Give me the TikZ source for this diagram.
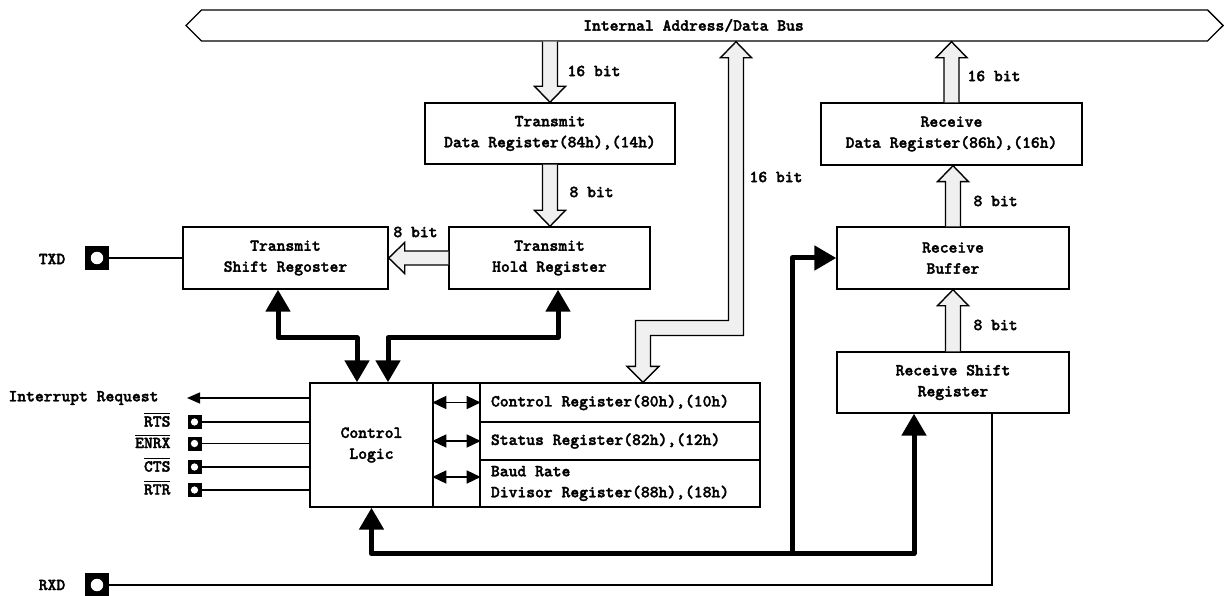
\documentclass[tikz,border=0pt]{standalone}
\usepackage{fontspec}
\setmonofont{lmmonolt10-regular.otf}[BoldFont=lmmonolt10-bold.otf, BoldFeatures={FakeBold=2}, WordSpace={1,0,0}]
\usetikzlibrary{arrows.meta,calc,shapes.arrows}

\definecolor{pipefill}{gray}{0.94}
\newcommand\actlow[1]{\vbox{\hrule height 1pt\kern2pt\hbox{#1}}}

\tikzset{
  every node/.style={font=\ttfamily\bfseries\fontsize{16.8}{21}\selectfont},
  blk/.style={draw, line width=1.4pt, fill=white, align=flush center, inner sep=0pt},
  regbox/.style={blk, minimum width=280pt, inner xsep=11pt, text width=258pt, align=flush left},
  pinsq/.style={fill=black, inner sep=0pt, minimum size=#1,
    path picture={\fill[white] (path picture bounding box.center) circle (#1*0.26);}},
  wire/.style={line width=1.2pt},
  bigarrow/.style={line width=5pt, line join=round},
  pipeline/.style={draw=black, fill=pipefill, line width=1.4pt, line join=miter},
}

% hollow bus arrows, from the shaft end #1 to the tip #2
\newcommand\pipedown[2]{%
  \filldraw[pipeline] let \p1=(#1), \p2=(#2) in
    (\x1-7.5pt,\y1) -- (\x1-7.5pt,\y2+16pt) -- (\x1-15.5pt,\y2+16pt) -- (\p2)
    -- (\x1+15.5pt,\y2+16pt) -- (\x1+7.5pt,\y2+16pt) -- (\x1+7.5pt,\y1);}
\newcommand\pipeup[2]{%
  \filldraw[pipeline] let \p1=(#1), \p2=(#2) in
    (\x1-7.5pt,\y1) -- (\x1-7.5pt,\y2-16pt) -- (\x1-15.5pt,\y2-16pt) -- (\p2)
    -- (\x1+15.5pt,\y2-16pt) -- (\x1+7.5pt,\y2-16pt) -- (\x1+7.5pt,\y1);}
\newcommand\pipeleft[2]{%
  \filldraw[pipeline] let \p1=(#1), \p2=(#2) in
    (\x1,\y1+7pt) -- (\x2+16pt,\y1+7pt) -- (\x2+16pt,\y1+15.5pt) -- (\p2)
    -- (\x2+16pt,\y1-15.5pt) -- (\x2+16pt,\y1-7pt) -- (\x1,\y1-7pt);}

\begin{document}
\begin{tikzpicture}[x=1pt, y=-1pt]
  \useasboundingbox (0,0) rectangle (1224,596);

  % bus
  \node[draw, line width=1.4pt, double arrow, double arrow head extend=0pt,
        minimum height=1037pt, minimum width=31pt, inner sep=0pt,
        label={[xshift=-11pt]center:Internal Address/Data Bus}] (bus) at (704.5,25.5) {};

  % transmit side
  \node[blk, minimum width=250pt, minimum height=61pt] (tdr) at (550,133.5) {Transmit\\Data Register(84h),(14h)};
  \node[blk, minimum width=201pt, minimum height=62pt] (thr) at (549.5,258) {Transmit\\Hold Register};
  \node[blk, minimum width=205pt, minimum height=62pt] (tsr) at (285.5,258) {Transmit\\Shift Regoster};

  % receive side
  \node[blk, minimum width=261pt, minimum height=62pt] (rdr) at (951.5,134) {Receive\\Data Register(86h),(16h)};
  \node[blk, minimum width=232pt, minimum height=62pt] (rbuf) at (953,258) {Receive\\Buffer};
  \node[blk, minimum width=232pt, minimum height=61pt] (rsr) at (953,382.5) {Receive Shift\\Register};

  % control logic and registers
  \node[blk, minimum width=123pt, minimum height=124pt] (ctrl) at (371.5,445) {Control\\Logic};
  \node[blk, minimum width=47pt, minimum height=124pt] (col) at (456.5,445) {};
  \node[regbox, minimum height=39pt] (creg) at (620,402.5) {Control Register(80h),(10h)};
  \node[regbox, minimum height=38pt] (sreg) at (620,441) {Status Register(82h),(12h)};
  \node[regbox, minimum height=47pt] (breg) at (620,483.5) {Baud Rate\\Divisor Register(88h),(18h)};

  \draw[line width=1.5pt, {Triangle[length=14pt,width=13pt]}-{Triangle[length=14pt,width=13pt]}] (col.west |- creg) -- (col.east |- creg);
  \draw[line width=1.5pt, {Triangle[length=14pt,width=13pt]}-{Triangle[length=14pt,width=13pt]}] (col.west |- sreg) -- (col.east |- sreg);
  \draw[line width=1.5pt, {Triangle[length=14pt,width=13pt]}-{Triangle[length=14pt,width=13pt]}] (col.west |- 0,477) -- (col.east |- 0,477);

  % bus arrows
  \pipedown{tdr.north |- bus.south}{tdr.north}
  \pipedown{tdr.south}{tdr.south |- thr.north}
  \pipeleft{thr.west}{tsr.east}
  \pipeup{rdr.north}{rdr.north |- bus.south}
  \pipeup{rbuf.north}{rbuf.north |- rdr.south}
  \pipeup{rsr.north}{rsr.north |- rbuf.south}

  \coordinate (bend) at (736,328);
  \coordinate (drop) at (643,328);
  \filldraw[pipeline] let \p1=(bend |- bus.south), \p2=(creg.north -| drop), \p3=(drop) in
    (\p1) -- (\x1+15.5pt,\y1-16pt) -- (\x1+7.5pt,\y1-16pt) -- (\x1+7.5pt,\y3-7.5pt)
    -- (\x2+7.5pt,\y3-7.5pt) -- (\x2+7.5pt,\y2+16pt) -- (\x2+16pt,\y2+16pt) -- (\p2)
    -- (\x2-16pt,\y2+16pt) -- (\x2-7.5pt,\y2+16pt) -- (\x2-7.5pt,\y3+7.5pt)
    -- (\x1-7.5pt,\y3+7.5pt) -- (\x1-7.5pt,\y1-16pt) -- (\x1-15.5pt,\y1-16pt) -- cycle;

  \node[anchor=west] (w1) at (564,71) {16 bit};
  \node[anchor=west] (w2) at (566,192) {8 bit};
  \node (w3) at (415.5,232) {8 bit};
  \node[anchor=west] (w4) at (746,177) {16 bit};
  \node[anchor=west] (w5) at (964,76) {16 bit};
  \node[anchor=west] (w6) at (970,201) {8 bit};
  \node[anchor=west] (w7) at (970,325) {8 bit};

  % control paths
  \draw[bigarrow, {Triangle[length=22pt,width=24pt]}-{Triangle[length=22pt,width=24pt]}]
    ($(tsr.south)+(-7.5,0)$) -- ++(0,48) -| ($(ctrl.north)+(-14.5,0)$);
  \draw[bigarrow, {Triangle[length=22pt,width=24pt]}-{Triangle[length=22pt,width=24pt]}]
    ($(thr.south)+(8.5,0)$) -- ++(0,48) -| ($(ctrl.north)+(16.5,0)$);
  \draw[bigarrow, {Triangle[length=22pt,width=24pt]}-{Triangle[length=22pt,width=24pt]}]
    (ctrl.south) -- ++(0,46) -| ($(rsr.south)+(-39,0)$);
  \coordinate (fork) at (792,553);
  \draw[bigarrow, -{Triangle[length=22pt,width=24pt]}] (fork) |- (rbuf.west);

  % pins
  \node[pinsq=24pt] (txdpin) at (97,258) {};
  \node (txd) at (52,259) {TXD};
  \draw[wire] (txdpin) -- (tsr);

  \node[pinsq=24pt] (rxdpin) at (97,585) {};
  \node (rxd) at (52,585) {RXD};
  \draw[wire] (rxdpin) -| ($(rsr.south)+(39,0)$);

  \coordinate (irq) at (187,398);
  \draw[line width=1.3pt, -{Triangle[length=13pt,width=11pt]}] (irq -| ctrl.west) -- (irq);
  \node[anchor=east] (irqlbl) at (162,398) {Interrupt Request};

  \node[pinsq=14pt] (rtspin) at (194.5,422) {};
  \node[pinsq=14pt] (enrxpin) at (194.5,443.5) {};
  \node[pinsq=14pt] (ctspin) at (194.5,467) {};
  \node[pinsq=14pt] (rtrpin) at (194.5,490) {};
  \node[anchor=east] (rts) at (174,420) {\actlow{RTS}};
  \node[anchor=east] (enrx) at (174,441.5) {\actlow{ENRX}};
  \node[anchor=east] (cts) at (174,465) {\actlow{CTS}};
  \node[anchor=east] (rtr) at (174,488) {\actlow{RTR}};
  \draw[wire] (rtspin) -- (rtspin -| ctrl.west);
  \draw[wire] (enrxpin) -- (enrxpin -| ctrl.west);
  \draw[wire] (ctspin) -- (ctspin -| ctrl.west);
  \draw[wire] (rtrpin) -- (rtrpin -| ctrl.west);
\end{tikzpicture}
\end{document}
